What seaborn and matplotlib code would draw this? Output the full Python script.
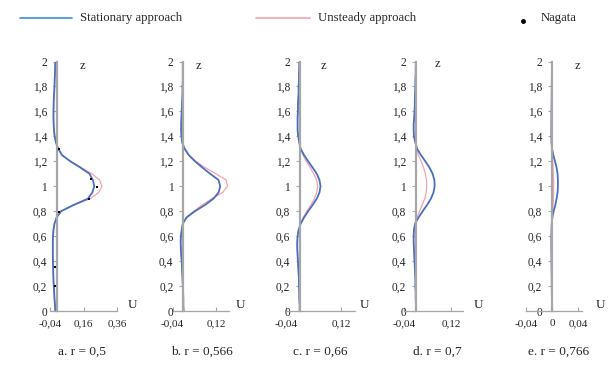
import numpy as np
import pandas as pd
import matplotlib
matplotlib.use("Agg")
import matplotlib.pyplot as plt
from matplotlib.lines import Line2D
import seaborn as sns

# Vertical coordinate shared by every profile
z = [0.00, 0.05, 0.10, 0.15, 0.20, 0.25, 0.30, 0.35, 0.40, 0.45,
     0.50, 0.55, 0.60, 0.65, 0.70, 0.75, 0.80, 0.85, 0.90, 0.95,
     1.00, 1.05, 1.10, 1.15, 1.20, 1.25, 1.30, 1.35, 1.40, 1.45,
     1.50, 1.55, 1.60, 1.65, 1.70, 1.75, 1.80, 1.85, 1.90, 1.95, 2.00]

# a. r = 0,5
stat_a = [-0.010, -0.012, -0.015, -0.017, -0.019, -0.021, -0.022, -0.023, -0.024, -0.025,
          -0.025, -0.025, -0.024, -0.021, -0.015, -0.002, 0.025, 0.100, 0.185, 0.212,
          0.224, 0.215, 0.195, 0.140, 0.080, 0.030, 0.008, -0.006, -0.014, -0.018,
          -0.020, -0.021, -0.021, -0.020, -0.019, -0.017, -0.015, -0.014, -0.012, -0.011, -0.010]
unst_a = [-0.010, -0.012, -0.015, -0.017, -0.019, -0.021, -0.022, -0.023, -0.024, -0.025,
          -0.025, -0.025, -0.024, -0.021, -0.015, -0.002, 0.025, 0.100, 0.200, 0.250,
          0.270, 0.255, 0.210, 0.145, 0.080, 0.030, 0.008, -0.006, -0.014, -0.018,
          -0.020, -0.021, -0.021, -0.020, -0.019, -0.017, -0.015, -0.014, -0.012, -0.011, -0.010]
nagata_z = [0.20, 0.35, 0.79, 0.90, 0.99, 1.06, 1.30]
nagata_u = [-0.012, -0.012, 0.010, 0.190, 0.240, 0.206, 0.010]

# b. r = 0,566
stat_b = [0.001, 0.000, 0.000, -0.001, -0.002, -0.003, -0.004, -0.005, -0.006, -0.008,
          -0.009, -0.010, -0.009, -0.006, -0.002, 0.012, 0.043, 0.080, 0.111, 0.130,
          0.136, 0.130, 0.099, 0.070, 0.043, 0.020, 0.005, -0.004, -0.007, -0.008,
          -0.008, -0.007, -0.006, -0.005, -0.004, -0.003, -0.003, -0.002, -0.002, -0.002, -0.002]
unst_b = [0.001, 0.000, 0.000, -0.001, -0.002, -0.003, -0.004, -0.005, -0.006, -0.008,
          -0.009, -0.010, -0.009, -0.006, -0.002, 0.010, 0.038, 0.070, 0.105, 0.145,
          0.163, 0.158, 0.120, 0.080, 0.046, 0.021, 0.005, -0.004, -0.007, -0.008,
          -0.008, -0.007, -0.006, -0.005, -0.004, -0.003, -0.003, -0.002, -0.002, -0.002, -0.002]

# c. r = 0,66
stat_c = [-0.001, -0.001, -0.002, -0.002, -0.003, -0.003, -0.004, -0.005, -0.006, -0.007,
          -0.008, -0.008, -0.007, -0.004, 0.002, 0.012, 0.024, 0.037, 0.049, 0.057,
          0.060, 0.057, 0.049, 0.037, 0.024, 0.012, 0.002, -0.002, -0.005, -0.007,
          -0.007, -0.007, -0.006, -0.006, -0.005, -0.004, -0.004, -0.003, -0.003, -0.002, -0.002]
unst_c = [-0.001, -0.001, -0.002, -0.002, -0.003, -0.003, -0.004, -0.005, -0.006, -0.007,
          -0.008, -0.008, -0.007, -0.004, 0.002, 0.010, 0.020, 0.032, 0.042, 0.049,
          0.052, 0.049, 0.040, 0.030, 0.018, 0.009, 0.002, -0.002, -0.005, -0.007,
          -0.007, -0.007, -0.006, -0.006, -0.005, -0.004, -0.004, -0.003, -0.003, -0.002, -0.002]

# d. r = 0,7
stat_d = [0.000, 0.000, -0.001, -0.001, -0.002, -0.002, -0.003, -0.004, -0.005, -0.006,
          -0.007, -0.008, -0.008, -0.007, -0.003, 0.009, 0.023, 0.038, 0.051, 0.060,
          0.064, 0.063, 0.057, 0.046, 0.032, 0.017, 0.004, -0.002, -0.007, -0.008,
          -0.008, -0.006, -0.005, -0.004, -0.004, -0.003, -0.002, -0.002, -0.001, -0.001, 0.000]
unst_d = [0.000, 0.000, -0.001, -0.001, -0.002, -0.002, -0.003, -0.004, -0.005, -0.006,
          -0.007, -0.008, -0.008, -0.007, -0.003, 0.004, 0.012, 0.021, 0.030, 0.035,
          0.037, 0.036, 0.032, 0.026, 0.018, 0.008, 0.002, -0.002, -0.007, -0.008,
          -0.008, -0.006, -0.005, -0.004, -0.004, -0.003, -0.002, -0.002, -0.001, -0.001, 0.000]

# e. r = 0,766
stat_e = [0.0000, 0.0000, -0.0002, -0.0003, -0.0004, -0.0005, -0.0006, -0.0007, -0.0008, -0.0009,
          -0.0010, -0.0010, -0.0010, -0.0008, -0.0005, 0.0005, 0.0025, 0.0050, 0.0070, 0.0085,
          0.0090, 0.0090, 0.0085, 0.0070, 0.0045, 0.0020, 0.0000, -0.0008, -0.0010, -0.0010,
          -0.0010, -0.0009, -0.0008, -0.0007, -0.0006, -0.0005, -0.0004, -0.0003, -0.0002, -0.0001, 0.0000]
unst_e = [0.0000, 0.0000, -0.0002, -0.0003, -0.0004, -0.0005, -0.0006, -0.0007, -0.0008, -0.0009,
          -0.0010, -0.0010, -0.0010, -0.0008, -0.0005, 0.0000, 0.0010, 0.0015, 0.0020, 0.0024,
          0.0025, 0.0024, 0.0020, 0.0015, 0.0010, 0.0004, 0.0000, -0.0008, -0.0010, -0.0010,
          -0.0010, -0.0009, -0.0008, -0.0007, -0.0006, -0.0005, -0.0004, -0.0003, -0.0002, -0.0001, 0.0000]

captions = ["a. r = 0,5", "b. r = 0,566", "c. r = 0,66", "d. r = 0,7", "e. r = 0,766"]
x_ticks = [[-0.04, 0.16, 0.36], [-0.04, 0.12], [-0.04, 0.12], [-0.04, 0.12], [-0.04, 0.0, 0.04]]
x_tick_labels = [["-0,04", "0,16", "0,36"], ["-0,04", "0,12"], ["-0,04", "0,12"],
                 ["-0,04", "0,12"], ["-0,04", "0", "0,04"]]
x_limits = [(-0.04, 0.36), (-0.04, 0.17), (-0.04, 0.16), (-0.04, 0.16), (-0.04, 0.046)]
y_ticks = [0, 0.2, 0.4, 0.6, 0.8, 1.0, 1.2, 1.4, 1.6, 1.8, 2.0]
y_tick_labels = ["0", "0,2", "0,4", "0,6", "0,8", "1", "1,2", "1,4", "1,6", "1,8", "2"]

stationary = [stat_a, stat_b, stat_c, stat_d, stat_e]
unsteady = [unst_a, unst_b, unst_c, unst_d, unst_e]

sns.set_theme(style="white")
plt.rcParams["font.family"] = ["Liberation Serif", "DejaVu Serif"]

W, H = 610, 367
fig = plt.figure(figsize=(W / 100, H / 100), dpi=100)

BLUE = "#4a6fbf"
RED = "#f4a3ad"
AXIS = "#a6a6a6"

# panel extents in pixels: (left, right); z=0 at y=311, z=2 at y=61.5
panel_px = [(50.3, 117.0), (172.5, 229.4), (286.3, 354.7), (404.3, 462.7), (526.0, 582.0)]
y_bot, y_top = 311.0, 61.5
z_lab_px = [(82, 66), (198, 66), (323, 66), (437, 64), (577, 66)]
u_lab_px = [(132, 305), (240, 305), (364, 305), (478, 305), (600, 305)]
cap_px = [82, 202, 320, 437, 559]

for i in range(5):
    l, r = panel_px[i]
    ax = fig.add_axes([l / W, 1 - y_bot / H, (r - l) / W, (y_bot - y_top) / H])
    ax.set_facecolor("none")
    df = pd.DataFrame({"z": z, "stationary": stationary[i], "unsteady": unsteady[i]})
    sns.lineplot(data=df, x="unsteady", y="z", sort=False, estimator=None,
                 color=RED, linewidth=0.9, ax=ax)
    sns.lineplot(data=df, x="stationary", y="z", sort=False, estimator=None,
                 color=BLUE, linewidth=1.3, ax=ax)
    if i == 0:
        sns.scatterplot(x=nagata_u, y=nagata_z, color="black", s=4, marker="s",
                        linewidth=0, ax=ax, zorder=5)
    ax.set_xlim(*x_limits[i])
    ax.set_ylim(0, 2)
    ax.set_xlabel("")
    ax.set_ylabel("")
    ax.spines["top"].set_visible(False)
    ax.spines["right"].set_visible(False)
    ax.spines["left"].set_position(("data", 0))
    ax.spines["left"].set_color(AXIS)
    ax.spines["left"].set_linewidth(1.6)
    ax.spines["bottom"].set_color(AXIS)
    ax.spines["bottom"].set_linewidth(0.9)
    ax.set_yticks(y_ticks)
    ax.set_yticklabels(y_tick_labels)
    ax.set_xticks(x_ticks[i])
    ax.set_xticklabels(x_tick_labels[i])
    ax.tick_params(axis="y", direction="out", length=3, width=0.8, color=AXIS,
                   pad=4, labelsize=8.3, left=True)
    ax.tick_params(axis="x", direction="in", length=3, width=0.8, color=AXIS,
                   pad=6, labelsize=8.0, bottom=True)
    ax.grid(False)
    fig.text(z_lab_px[i][0] / W, 1 - z_lab_px[i][1] / H, "z", fontsize=9,
             ha="center", va="center")
    fig.text(u_lab_px[i][0] / W, 1 - u_lab_px[i][1] / H, "U", fontsize=9.5,
             ha="center", va="center")
    fig.text(cap_px[i] / W, 1 - 352 / H, captions[i], fontsize=9.5,
             ha="center", va="center")

# legend row across the top
ly = 1 - 18 / H
fig.add_artist(Line2D([20 / W, 72 / W], [ly, ly], color="#3a8fd4", linewidth=1.2))
fig.text(80 / W, ly, "Stationary approach", fontsize=9.2, ha="left", va="center")
fig.add_artist(Line2D([256 / W, 310 / W], [ly, ly], color=RED, linewidth=1.2))
fig.text(318 / W, ly, "Unsteady approach", fontsize=9.2, ha="left", va="center")
fig.add_artist(Line2D([523 / W], [1 - 21 / H], marker="o", markersize=2.5,
                      color="black", linestyle="none"))
fig.text(541 / W, ly, "Nagata", fontsize=9.2, ha="left", va="center")

fig.savefig("out.png", dpi=100)
